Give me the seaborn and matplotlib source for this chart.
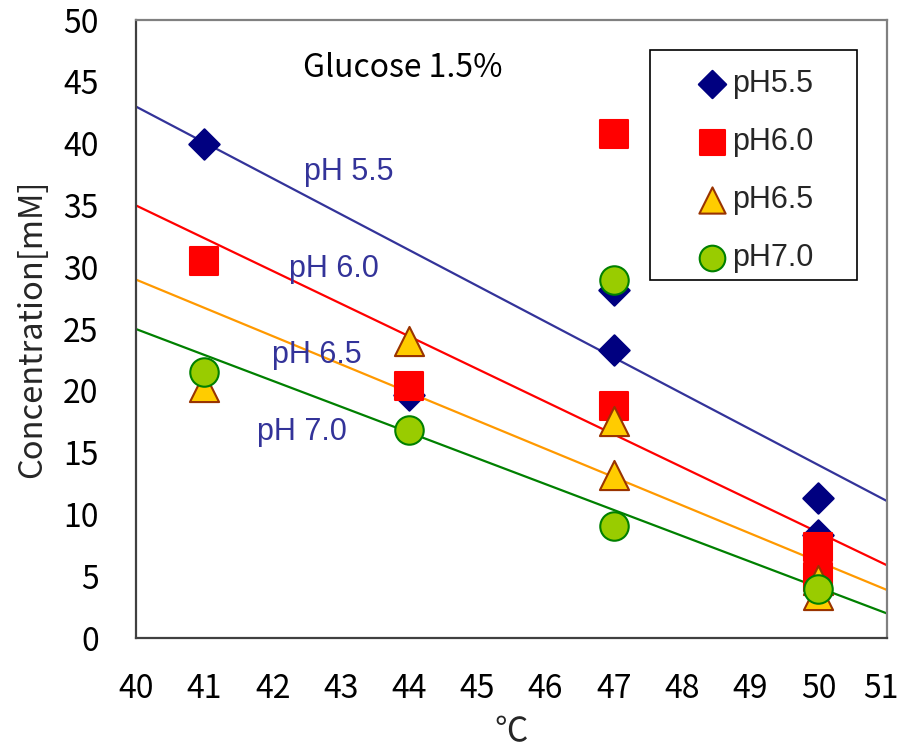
import numpy as np
import pandas as pd
import matplotlib
matplotlib.use("Agg")
import matplotlib.pyplot as plt
import matplotlib.transforms as mtransforms
import seaborn as sns
from matplotlib.patches import Rectangle

temp_55 = [41, 44, 47, 47, 50, 50]
conc_55 = [40.0, 19.7, 28.2, 23.3, 11.3, 8.3]
temp_60 = [41, 44, 47, 47, 50, 50]
conc_60 = [30.5, 20.4, 40.8, 18.8, 7.4, 4.9]
temp_65 = [41, 44, 47, 47, 50, 50]
conc_65 = [20.3, 24.0, 17.6, 13.2, 4.7, 3.5]
temp_70 = [41, 44, 47, 47, 50]
conc_70 = [21.5, 16.8, 29.0, 9.1, 4.0]

# trend lines, value at 40 C and at 51 C
fit_x = [40, 51]
fit_55 = [43.0, 11.1]
fit_60 = [35.0, 5.9]
fit_65 = [29.0, 3.9]
fit_70 = [25.0, 2.0]

series_names = ["pH5.5", "pH6.0", "pH6.5", "pH7.0"]
line_labels = ["pH 5.5", "pH 6.0", "pH 6.5", "pH 7.0"]
label_x = [43.12, 42.9, 42.65, 42.43]
label_y = [37.7, 29.9, 22.9, 16.7]

sns.set_style("white")
plt.rcParams["font.family"] = ["Noto Sans CJK JP", "DejaVu Sans"]

fig = plt.figure(figsize=(9.02, 7.48), dpi=100)
ax = fig.add_axes([0.151, 0.147, 0.832, 0.826])

temps = [temp_55, temp_60, temp_65, temp_70]
concs = [conc_55, conc_60, conc_65, conc_70]
fits = [fit_55, fit_60, fit_65, fit_70]
markers = ["D", "s", "^", "o"]
sizes = [240, 400, 440, 420]
faces = ["#000080", "#FF0000", "#FFCC00", "#99CC00"]
edges = ["#000080", "#FF0000", "#993300", "#008000"]
line_cols = ["#333399", "#FF0000", "#FF9900", "#008000"]

# trend lines first so markers sit on top
for fit, col in zip(fits, line_cols):
    sns.lineplot(x=fit_x, y=fit, color=col, linewidth=1.6, ax=ax, zorder=1)

for i in range(4):
    df = pd.DataFrame({"temp": temps[i], "conc": concs[i]})
    sns.scatterplot(data=df, x="temp", y="conc", marker=markers[i], s=sizes[i],
                    color=faces[i], edgecolor=edges[i], linewidth=1.5,
                    label=series_names[i], ax=ax, zorder=3 + i)

for txt, lx, ly in zip(line_labels, label_x, label_y):
    ax.text(lx, ly, txt, color="#333399", fontsize=22, ha="center", va="center",
            family=["Liberation Sans", "DejaVu Sans"])

ax.text(43.9, 46.1, "Glucose 1.5%", color="black", fontsize=23, ha="center", va="center")

ax.set_xlim(40, 51)
ax.set_ylim(0, 50)
ax.set_xticks(range(40, 52))
ax.set_yticks(range(0, 55, 5))
ax.tick_params(axis="both", direction="in", length=8.5, width=1.2, colors="#404040",
               labelcolor="black", labelsize=23)
ax.tick_params(axis="x", pad=25)
ax.tick_params(axis="y", pad=27)
ax.set_xlabel("℃", fontsize=24, labelpad=7)
ax.set_ylabel("Concentration[mM]", fontsize=23.5, labelpad=11)

# nudge the last x label so it stays inside the image
last = ax.get_xticklabels()[-1]
last.set_transform(last.get_transform() + mtransforms.ScaledTranslation(-4 / 72, 0, fig.dpi_scale_trans))

for side in ["left", "bottom"]:
    ax.spines[side].set_color("#404040")
    ax.spines[side].set_linewidth(1.6)
for side in ["top", "right"]:
    ax.spines[side].set_color("#808080")
    ax.spines[side].set_linewidth(1.6)

# legend frame drawn separately to get the wide left margin
ax.add_patch(Rectangle((0.684, 0.579), 0.277, 0.372, transform=ax.transAxes,
                       fill=False, edgecolor="black", linewidth=1.2, zorder=10))
leg = ax.legend(loc="upper left", bbox_to_anchor=(0.727, 0.946), frameon=False,
                borderpad=0, handlelength=1.0, handletextpad=0.15, labelspacing=0.92,
                markerscale=0.9, prop={"family": ["Liberation Sans", "DejaVu Sans"], "size": 22})
leg.set_zorder(11)

fig.savefig("out.png", dpi=100)
